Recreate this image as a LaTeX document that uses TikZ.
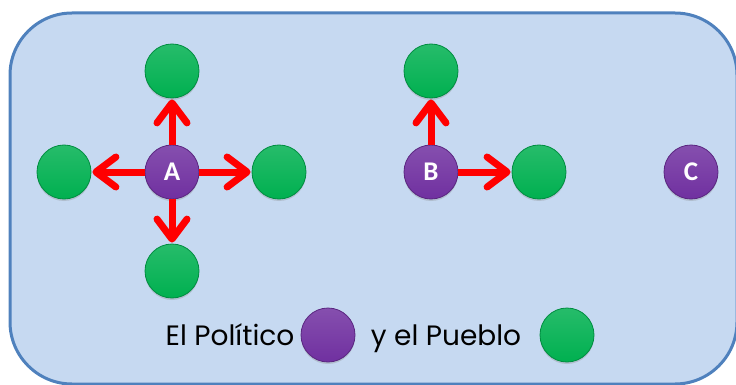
\documentclass[tikz,border=0pt]{standalone}
\usepackage{fontspec}
\setmainfont{Poppins}
\newfontfamily\letra{Carlito}
\usetikzlibrary{arrows.meta,shadows}

\definecolor{fondo}{HTML}{C6D9F1}
\definecolor{borde}{HTML}{4F81BD}
\definecolor{verde}{HTML}{00B050}
\definecolor{morado}{HTML}{7030A0}

\begin{document}
\begin{tikzpicture}[x=1pt,y=-1pt,->,>={Straight Barb[length=20pt,width=30pt,round]},
  node distance=107pt,
  bola/.style={circle,minimum size=54pt,inner sep=0pt,line width=0.8pt,
    drop shadow={opacity=0.3,shadow xshift=0pt,shadow yshift=-2pt}},
  pueblo/.style={bola,draw=verde!80!black,top color=verde!85!white,bottom color=verde},
  politico/.style={bola,draw=morado!80!black,top color=morado!85!white,bottom color=morado,
    text=white,font=\letra\bfseries\fontsize{27}{27}\selectfont},
  leyenda/.style={anchor=base,font=\fontsize{28}{28}\selectfont}]

 \useasboundingbox (0,0) rectangle (736,385);
 \draw[-,fill=fondo,draw=borde,line width=3pt,rounded corners=62pt] (10,13) rectangle (737,384);

 \node[politico] (a) at (172,172) {A};
 \node[pueblo] (a1) [above of=a,node distance=101pt] {};
 \node[pueblo] (a2) [left of=a,node distance=108pt] {};
 \node[pueblo] (a3) [right of=a] {};
 \node[pueblo] (a4) [below of=a,node distance=99pt] {};

 \node[politico] (b) at (431,172) {B};
 \node[pueblo] (b1) [above of=b,node distance=101pt] {};
 \node[pueblo] (b2) [right of=b,node distance=108pt] {};

 \node[politico] (c) [right of=b2,node distance=152pt] {C};

 % leyenda
 \node[politico] (pol) at (328,335) {};
 \node[pueblo] (pue) at (567,335) {};
 \node[leyenda] (tpol) at (230,345) {El Político};
 \node[leyenda] (tpue) at (446,345) {y el Pueblo};

 \path[red,line width=7pt,shorten >=1pt]
    (a)	edge (a1)
    (a)	edge (a2)
    (a)	edge (a3)
    (a)	edge (a4)
    (b)	edge (b1)
    (b)	edge (b2);

\end{tikzpicture}
\end{document}
